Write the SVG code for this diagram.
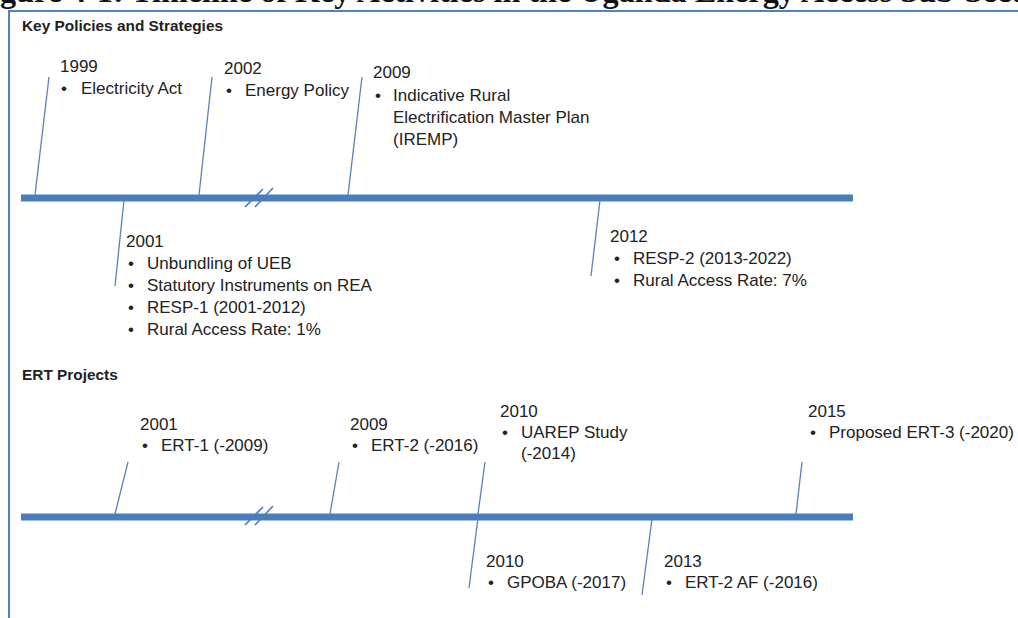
<svg xmlns="http://www.w3.org/2000/svg" width="1018" height="618" viewBox="0 0 1018 618">
<style>
.title{font-family:"Liberation Serif","Times New Roman",serif;font-weight:bold;font-size:32.2px;fill:#111}
.hd{font-family:"Liberation Sans",Arial,sans-serif;font-weight:bold;font-size:15.4px;fill:#222}
.t{font-family:"Liberation Sans",Arial,sans-serif;font-size:17px;fill:#222}
.bar{fill:#4a7ebb}
.conn{stroke:#5a82b8;stroke-width:1.3;fill:none}
.brk{stroke:#4a7ebb;stroke-width:1.6;fill:none}
.frame{stroke:#4f81bd;stroke-width:2;fill:none}
</style>
<rect width="1018" height="618" fill="#fff"/>
<text class="title" x="-28.6" y="2">Figure 4-1: Timeline of Key Activities in the Uganda Energy Access Sub-Sector</text>
<path class="frame" d="M1020 11 H9 V620"/>
<text class="hd" x="22" y="31">Key Policies and Strategies</text>
<text class="hd" x="22" y="380">ERT Projects</text>
<g id="timeline-policies">
<rect class="bar" x="21" y="194.5" width="832" height="7"/>
<path class="brk" d="M245 207 L263 189 M255 207 L273 188"/>
</g>
<g id="timeline-ert">
<rect class="bar" x="21" y="513.5" width="832" height="7"/>
<path class="brk" d="M245 525 L263 507 M255 525 L273 506"/>
</g>
<g id="connectors">
<line class="conn" x1="35" y1="195" x2="49" y2="77"/>
<line class="conn" x1="199" y1="195" x2="212" y2="77"/>
<line class="conn" x1="348" y1="195" x2="362" y2="77"/>
<line class="conn" x1="124" y1="200" x2="115" y2="286"/>
<line class="conn" x1="600" y1="200" x2="591" y2="276"/>
<line class="conn" x1="115" y1="514" x2="128" y2="462"/>
<line class="conn" x1="330" y1="514" x2="339" y2="462"/>
<line class="conn" x1="478" y1="514" x2="485" y2="462"/>
<line class="conn" x1="478" y1="518" x2="469" y2="588"/>
<line class="conn" x1="652" y1="519" x2="642" y2="595"/>
<line class="conn" x1="796" y1="514" x2="802" y2="462"/>
</g>
<g id="node-1999">
<text class="t" x="60" y="72">1999</text>
<text class="t" x="61" y="94">•</text><text class="t" x="81" y="94">Electricity Act</text>
</g>
<g id="node-2002">
<text class="t" x="224" y="74">2002</text>
<text class="t" x="226" y="96">•</text><text class="t" x="245" y="96">Energy Policy</text>
</g>
<g id="node-2009">
<text class="t" x="373" y="78">2009</text>
<text class="t" x="375" y="101">•</text><text class="t" x="393" y="101">Indicative Rural</text>
<text class="t" x="393" y="123">Electrification Master Plan</text>
<text class="t" x="393" y="145">(IREMP)</text>
</g>
<g id="node-2001">
<text class="t" x="126" y="247">2001</text>
<text class="t" x="128" y="269">•</text><text class="t" x="147" y="269">Unbundling of UEB</text>
<text class="t" x="128" y="291">•</text><text class="t" x="147" y="291">Statutory Instruments on REA</text>
<text class="t" x="128" y="313">•</text><text class="t" x="147" y="313">RESP-1 (2001-2012)</text>
<text class="t" x="128" y="335">•</text><text class="t" x="147" y="335">Rural Access Rate: 1%</text>
</g>
<g id="node-2012">
<text class="t" x="610" y="242">2012</text>
<text class="t" x="614" y="264">•</text><text class="t" x="633" y="264">RESP-2 (2013-2022)</text>
<text class="t" x="614" y="286">•</text><text class="t" x="633" y="286">Rural Access Rate: 7%</text>
</g>
<g id="node-ert-2001">
<text class="t" x="140" y="430">2001</text>
<text class="t" x="142" y="451">•</text><text class="t" x="161" y="451">ERT-1 (-2009)</text>
</g>
<g id="node-ert-2009">
<text class="t" x="350" y="430">2009</text>
<text class="t" x="352" y="451">•</text><text class="t" x="371" y="451">ERT-2 (-2016)</text>
</g>
<g id="node-ert-2010-uarep">
<text class="t" x="500" y="417">2010</text>
<text class="t" x="502" y="438">•</text><text class="t" x="521" y="438">UAREP Study</text>
<text class="t" x="521" y="459">(-2014)</text>
</g>
<g id="node-ert-2015">
<text class="t" x="808" y="417">2015</text>
<text class="t" x="810" y="438">•</text><text class="t" x="829" y="438">Proposed ERT-3 (-2020)</text>
</g>
<g id="node-ert-2010-gpoba">
<text class="t" x="486" y="567">2010</text>
<text class="t" x="488" y="588">•</text><text class="t" x="507" y="588">GPOBA (-2017)</text>
</g>
<g id="node-ert-2013">
<text class="t" x="664" y="567">2013</text>
<text class="t" x="666" y="588">•</text><text class="t" x="685" y="588">ERT-2 AF (-2016)</text>
</g>
</svg>
